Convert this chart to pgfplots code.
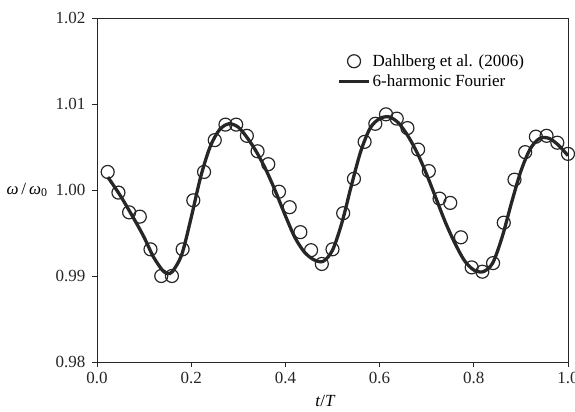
\documentclass[border=0pt]{standalone}
\usepackage{fontspec}
\setmainfont{Liberation Serif}
\usepackage{pgfplots}
\pgfplotsset{compat=1.18}
\pgfplotsset{
  circleg/.style={legend image code/.code={\draw[##1] plot coordinates {(15bp,0cm)};}},
  lineleg/.style={legend image code/.code={\draw[##1] (0bp,0bp) -- (30bp,0bp);}}
}
\begin{document}
\begin{tikzpicture}
\begin{axis}[
  scale only axis, width=471bp, height=344bp,
  xmin=0, xmax=1, ymin=0.98, ymax=1.02,
  xtick={0,0.2,0.4,0.6,0.8,1.0},
  xticklabels={0.0,0.2,0.4,0.6,0.8,1.0},
  ytick={0.98,0.99,1.00,1.01,1.02},
  yticklabels={0.98,0.99,1.00,1.01,1.02},
  tick pos=left, tick align=outside, major tick length=5bp,
  tick style={line width=0.9pt, black!85},
  axis line style={line width=0.9pt, black!85},
  ticklabel style={font=\fontsize{17bp}{20bp}\selectfont, text=black!85},
  xticklabel style={yshift=-2bp},
  yticklabel style={xshift=-3bp},
  every axis x label/.style={at={(axis description cs:0.485,0)}, anchor=center, yshift=-39bp},
  every axis y label/.style={at={(axis description cs:0,0.5)}, anchor=east, xshift=-46bp},
  xlabel={\fontsize{17bp}{20bp}\selectfont\textit{t}/\textit{T}},
  ylabel={\fontsize{17bp}{20bp}\selectfont\textit{ω}\,/\,\textit{ω}\textsubscript{0}},
  legend style={at={(0.51,0.90)}, anchor=north west, draw=none, fill=none,
    font=\fontsize{17bp}{20bp}\selectfont, row sep=3bp, inner sep=0pt},
  legend cell align=left,
]
\addplot[only marks, mark=o, mark size=6.5bp, line width=1.2pt, black!85, circleg]
coordinates {
(0.0227,1.0021)(0.0455,0.9997)(0.0682,0.9974)(0.0909,0.9969)(0.1136,0.9931)
(0.1364,0.9900)(0.1591,0.9900)(0.1818,0.9931)(0.2045,0.9988)(0.2273,1.0021)
(0.2500,1.0058)(0.2727,1.0076)(0.2955,1.0076)(0.3182,1.0063)(0.3409,1.0045)
(0.3636,1.0030)(0.3864,0.9998)(0.4091,0.9980)(0.4318,0.9951)(0.4545,0.9930)
(0.4773,0.9914)(0.5000,0.9931)(0.5227,0.9973)(0.5455,1.0013)(0.5682,1.0056)
(0.5909,1.0077)(0.6136,1.0088)(0.6364,1.0083)(0.6591,1.0072)(0.6818,1.0047)
(0.7045,1.0022)(0.7273,0.9990)(0.7500,0.9985)(0.7727,0.9945)(0.7955,0.9910)
(0.8182,0.9905)(0.8409,0.9915)(0.8636,0.9962)(0.8864,1.0012)(0.9091,1.0044)
(0.9318,1.0062)(0.9545,1.0063)(0.9773,1.0055)(1.0000,1.0042)
};
\addlegendentry{Dahlberg et al. (2006)}
\addplot[smooth, line width=3.3pt, black!85, no marks, lineleg]
coordinates {
(0.023,1.0015)(0.05,0.9993)(0.08,0.9965)(0.10,0.9945)(0.12,0.9922)
(0.14,0.9906)(0.15,0.9903)(0.16,0.9905)(0.18,0.9925)(0.20,0.9968)
(0.22,1.0015)(0.24,1.0050)(0.26,1.0070)(0.28,1.0077)(0.30,1.0073)
(0.32,1.0060)(0.34,1.0043)(0.36,1.0022)(0.38,0.9997)(0.40,0.9970)
(0.42,0.9945)(0.44,0.9928)(0.46,0.9919)(0.48,0.9917)(0.50,0.9930)
(0.52,0.9962)(0.54,1.0005)(0.56,1.0045)(0.58,1.0072)(0.60,1.0083)
(0.62,1.0085)(0.64,1.0078)(0.66,1.0063)(0.68,1.0043)(0.70,1.0018)
(0.72,0.9990)(0.74,0.9962)(0.76,0.9938)(0.78,0.9918)(0.80,0.9907)
(0.82,0.9905)(0.84,0.9915)(0.86,0.9945)(0.88,0.9985)(0.90,1.0022)
(0.92,1.0048)(0.94,1.0060)(0.96,1.0060)(0.98,1.0052)(1.00,1.0040)
};
\addlegendentry{6-harmonic Fourier}
\end{axis}
\pgfresetboundingbox
\path (-97bp,-50bp) rectangle (478bp,362bp);
\end{tikzpicture}
\end{document}
